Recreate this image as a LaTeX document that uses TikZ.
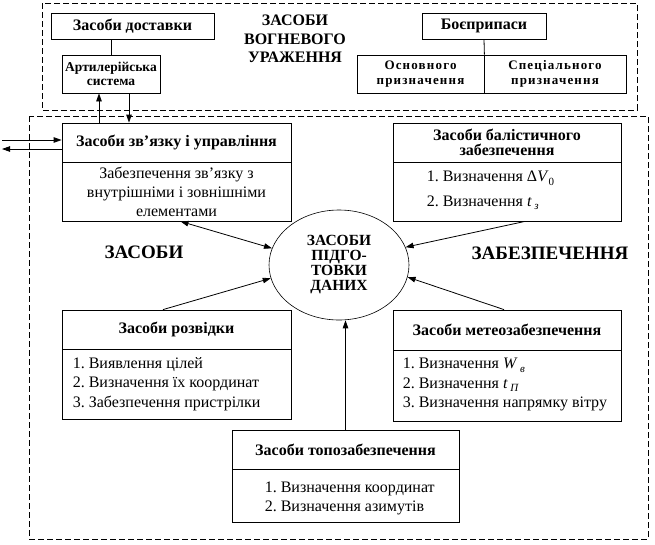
\documentclass[tikz,border=0pt]{standalone}
\usepackage{fontspec}
\setmainfont{Liberation Serif}
\usetikzlibrary{arrows.meta,shapes.geometric}
\frenchspacing

\newcommand{\sbs}[1]{\raisebox{-0.5ex}{\fontsize{11}{11}\selectfont #1}}

\tikzset{
    hdr/.style={draw, line width=0.8pt, inner sep=0pt, align=center, font=\fontsize{16}{15.5}\selectfont\bfseries},
    small hdr/.style={hdr, font=\fontsize{13.5}{14.5}\selectfont\bfseries},
    wide hdr/.style={hdr, font=\fontsize{13}{15}\selectfont\bfseries\addfontfeatures{LetterSpace=9}},
    body/.style={draw, line width=0.8pt, inner sep=0pt, align=center, font=\fontsize{16}{19}\selectfont},
    lst/.style={anchor=west, inner sep=0pt, align=left, font=\fontsize{16}{19.5}\selectfont},
    title/.style={align=center, font=\fontsize{16}{18.5}\selectfont\bfseries},
    big title/.style={title, font=\fontsize{19}{20}\selectfont\bfseries},
    conn/.style={->, line width=0.8pt},
    frame/.style={line width=0.8pt, dash pattern=on 6pt off 3pt}
}

\begin{document}
\begin{tikzpicture}[x=1pt, y=-1pt, >={Triangle[length=8pt,width=5.5pt]}]
    \useasboundingbox (0,0) rectangle (655,544);

    \draw[frame] (42,3) rectangle (637,110);
    \draw[frame] (29,116) rectangle (648,539);

    % засоби вогневого ураження
    \node[hdr, minimum width=163, minimum height=26] (delivery) at (132.5,26) {Засоби доставки};
    \node[small hdr, minimum width=98, minimum height=38] (artsys) at (111,74) {Артилерійська\\система};
    \node[hdr, minimum width=124, minimum height=26] (ammo) at (484,26) {Боєприпаси};
    \node[wide hdr, minimum width=127, minimum height=38] (ammomain) at (420.5,74) {Основного\\призначення};
    \node[wide hdr, minimum width=142, minimum height=38] (ammospec) at (555,74) {Спеціального\\призначення};
    \node[title] (firetitle) at (295,39) {ЗАСОБИ\\ВОГНЕВОГО\\УРАЖЕННЯ};

    \draw[line width=0.8pt] (artsys.north) -- (artsys.north |- delivery.south);
    \draw[line width=0.8pt] (ammo.south) -- (ammomain.north east);

    % засоби забезпечення
    \node[hdr, minimum width=229, minimum height=39] (comm) at (176.5,142.5) {Засоби зв’язку і управління};
    \node[body, minimum width=229, minimum height=59] (commbody) at (176.5,191.5) {Забезпечення зв’язку з\\внутрішніми і зовнішніми\\елементами};

    \node[hdr, minimum width=228, minimum height=39] (ball) at (507,142.5) {Засоби балістичного\\забезпечення};
    \node[body, minimum width=228, minimum height=59] (ballbody) at (507,191.5) {};
    \node[lst] (balltext) at ([xshift=34pt,yshift=1pt]ballbody.west)
        {1. Визначення Δ\textit{V}\sbs{0}\\[5pt]2. Визначення \textit{t}\,\sbs{\textit{з}}};

    \node[hdr, minimum width=229, minimum height=39] (recon) at (176.5,329.5) {Засоби розвідки};
    \node[body, minimum width=229, minimum height=70] (reconbody) at (176.5,384) {};
    \node[lst] (recontext) at ([xshift=11pt]reconbody.west)
        {1. Виявлення цілей\\2. Визначення їх координат\\3. Забезпечення пристрілки};

    \node[hdr, minimum width=228, minimum height=40] (meteo) at (507,330) {Засоби метеозабезпечення};
    \node[body, minimum width=228, minimum height=71] (meteobody) at (507,385.5) {};
    \node[lst] (meteotext) at ([xshift=10pt,yshift=1pt]meteobody.west)
        {1. Визначення \textit{W}\,\sbs{\textit{в}}\\2. Визначення \textit{t}\,\sbs{\textit{П}}\\3. Визначення напрямку вітру};

    \node[hdr, minimum width=227, minimum height=39] (topo) at (345.5,449.5) {Засоби топозабезпечення};
    \node[body, minimum width=227, minimum height=53] (topobody) at (345.5,495.5) {};
    \node[lst] (topotext) at ([xshift=33pt,yshift=-3pt]topobody.west)
        {1. Визначення координат\\2. Визначення азимутів};

    \node[draw, ellipse, line width=0.6pt, minimum width=140, minimum height=110, inner sep=0pt,
        align=center, font=\fontsize{15.5}{15}\selectfont\bfseries] (prep) at (339,265) {ЗАСОБИ\\ПІДГО-\\ТОВКИ\\ДАНИХ};

    \node[big title] (lefttitle) at (144,252) {ЗАСОБИ};
    \node[big title] (righttitle) at (550,253) {ЗАБЕЗПЕЧЕННЯ};

    % зв'язки
    \coordinate (up) at (99,0);
    \coordinate (down) at (129,0);
    \coordinate (inL) at (2,140);
    \coordinate (outL) at (2,149);
    \draw[conn] (up |- comm.north) -- (up |- artsys.south);
    \draw[conn] (down |- artsys.south) -- (down |- comm.north);
    \draw[conn] (inL) -- (inL -| comm.west);
    \draw[conn] (outL -| comm.west) -- (outL);

    \draw[<->, line width=0.8pt] ([xshift=4pt]commbody.south) -- (prep.166);
    \draw[conn] ([xshift=-13.5pt]recon.north) -- (prep.191);
    \draw[conn] ([xshift=18pt]ballbody.south) -- (prep.15);
    \draw[conn] ([xshift=-3pt]meteo.north) -- (prep.350);
    \draw[conn] (topo.north) -- (topo.north |- prep.south);
\end{tikzpicture}
\end{document}
